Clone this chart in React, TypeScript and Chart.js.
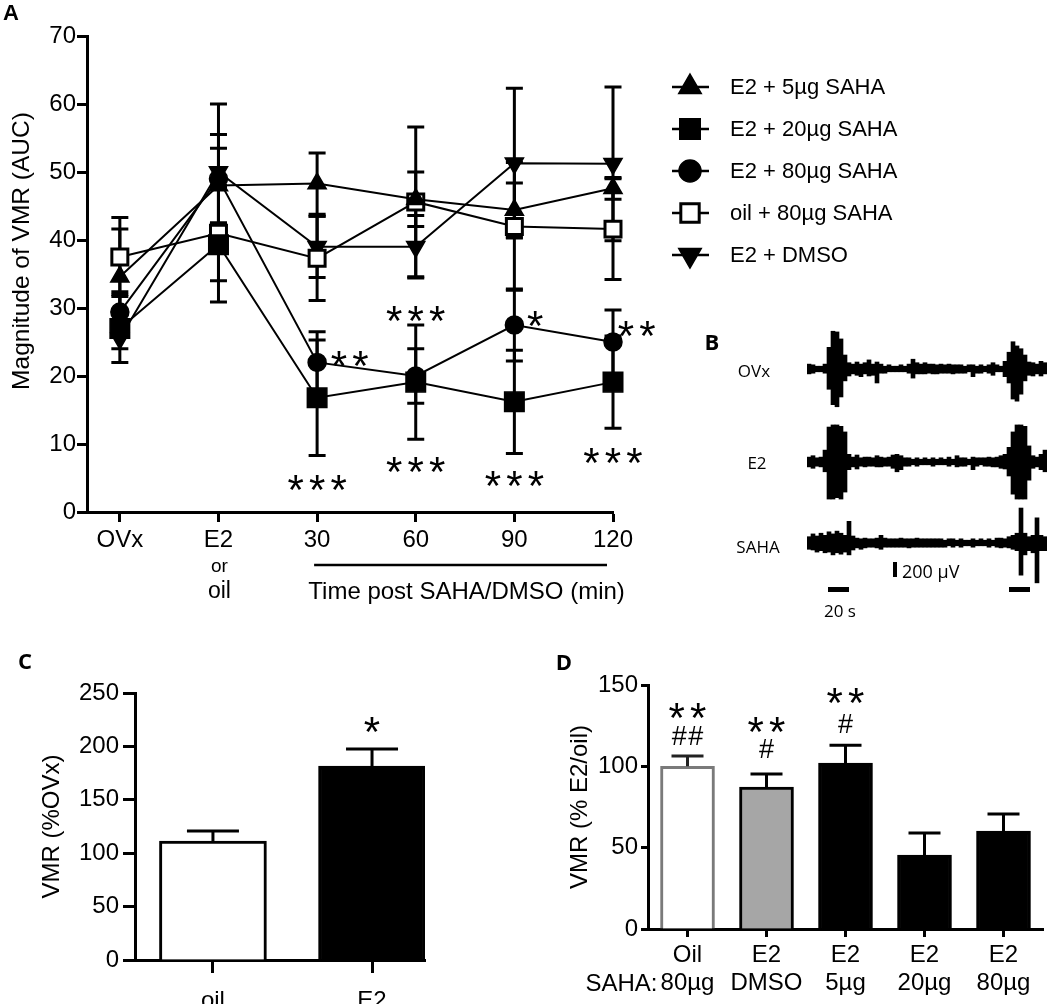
import React, { useEffect, useRef } from 'react';
import { Chart, registerables } from 'chart.js';
import { drawPoint } from 'chart.js/helpers';

Chart.register(...registerables);

const ARIAL = '"Liberation Sans", Arial, Helvetica, sans-serif';
const CALIBRI = '"Open Sans", "Noto Sans", sans-serif';
Chart.defaults.font.family = ARIAL;
Chart.defaults.color = '#000';

// ---------------- Panel A data ----------------
const timeLabels = ['OVx', 'E2', '30', '60', '90', '120'];
const e2SubLabels = ['or', 'oil'];
const xAxisNoteA = 'Time post SAHA/DMSO (min)';
const yTitleA = 'Magnitude of VMR (AUC)';
const seriesNames = ['E2 + 5µg SAHA', 'E2 + 20µg SAHA', 'E2 + 80µg SAHA', 'oil + 80µg SAHA', 'E2 + DMSO'];
const e2Saha5 = [34.6, 48.0, 48.3, 46.0, 44.4, 47.6];
const e2Saha5Err = [7.0, 5.5, 4.5, 4.0, 4.0, 1.6];
const e2Saha20 = [27.0, 39.3, 16.8, 19.1, 16.2, 19.1];
const e2Saha20Err = [5.0, 8.4, 8.5, 8.4, 7.6, 6.8];
const e2Saha80 = [29.4, 49.0, 22.0, 20.0, 27.5, 25.0];
const e2Saha80Err = [3.0, 6.5, 4.5, 4.0, 5.3, 4.7];
const oilSaha80 = [37.5, 41.0, 37.3, 45.6, 42.0, 41.6];
const oilSaha80Err = [5.8, 7.0, 6.2, 11.0, 9.4, 7.4];
const e2Dmso = [25.5, 50.0, 39.0, 39.0, 51.3, 51.2];
const e2DmsoErr = [1.5, 10.0, 4.5, 4.6, 11.0, 11.3];
const starsA = [
  { x: 2, y: 4.7, text: '***' },
  { x: 2.33, y: 23.0, text: '**' },
  { x: 3, y: 29.6, text: '***' },
  { x: 3, y: 7.4, text: '***' },
  { x: 4.21, y: 28.9, text: '*' },
  { x: 4, y: 5.4, text: '***' },
  { x: 5.24, y: 27.4, text: '**' },
  { x: 5, y: 8.8, text: '***' },
];

// ---------------- Panel B data (EMG envelopes, µV, 60 bins) ----------------
const ovxHi = [70, 60, 40, 40, 70, 310, 540, 530, 430, 200, 90, 70, 100, 70, 90, 130, 70, 100, 70, 40, 60, 40, 40, 60, 40, 70, 140, 90, 70, 90, 70, 70, 60, 70, 60, 70, 60, 60, 60, 40, 60, 60, 40, 60, 40, 60, 90, 60, 40, 110, 240, 390, 330, 290, 200, 100, 90, 70, 110, 90];
const ovxLo = [70, 60, 40, 40, 60, 290, 510, 540, 400, 170, 100, 70, 90, 110, 70, 100, 90, 200, 60, 60, 40, 40, 40, 40, 40, 60, 130, 70, 70, 70, 60, 70, 70, 60, 60, 60, 70, 60, 60, 60, 40, 110, 60, 60, 40, 60, 90, 40, 40, 110, 200, 430, 460, 360, 170, 90, 100, 70, 100, 70];
const e2Hi = [70, 90, 60, 70, 170, 500, 530, 530, 510, 430, 110, 70, 100, 60, 70, 70, 60, 90, 70, 60, 70, 100, 110, 90, 60, 60, 40, 60, 40, 60, 40, 60, 40, 60, 40, 70, 40, 90, 60, 60, 40, 70, 60, 60, 60, 70, 60, 70, 90, 110, 210, 430, 530, 530, 510, 230, 90, 70, 110, 170];
const e2Lo = [70, 90, 60, 70, 140, 530, 530, 510, 530, 430, 110, 70, 100, 60, 70, 60, 60, 70, 70, 60, 60, 90, 140, 110, 60, 60, 40, 60, 40, 40, 40, 60, 40, 40, 40, 60, 40, 70, 60, 60, 40, 110, 60, 40, 60, 60, 70, 70, 90, 100, 200, 460, 530, 530, 530, 260, 90, 70, 110, 140];
const sahaHi = [90, 130, 100, 140, 110, 160, 130, 170, 140, 110, 310, 100, 70, 60, 70, 60, 60, 70, 110, 70, 60, 60, 60, 70, 60, 60, 60, 70, 60, 60, 60, 60, 60, 60, 40, 60, 60, 40, 60, 40, 40, 60, 40, 60, 40, 60, 40, 70, 70, 60, 90, 110, 140, 500, 140, 90, 110, 360, 110, 90];
const sahaLo = [90, 100, 130, 110, 140, 130, 170, 140, 160, 130, 170, 100, 70, 90, 70, 60, 60, 70, 90, 60, 60, 60, 60, 60, 60, 70, 60, 60, 60, 60, 60, 60, 60, 60, 60, 40, 60, 40, 60, 40, 40, 60, 40, 40, 40, 60, 40, 60, 70, 60, 70, 90, 110, 460, 170, 110, 140, 570, 110, 110];
const traceNames = ['OVx', 'E2', 'SAHA'];

// ---------------- Panel C data ----------------
const groupsC = ['oil', 'E2'];
const valuesC = [111.4, 181.6];
const errorsC = [9.4, 16.0];
const starsC = [{ x: 1, y: 222.8, text: '*' }];
const yTitleC = 'VMR (%OVx)';

// ---------------- Panel D data ----------------
const groupsD = [['Oil', '80µg'], ['E2', 'DMSO'], ['E2', '5µg'], ['E2', '20µg'], ['E2', '80µg']];
const valuesD = [100, 87.3, 102, 45.5, 60.2];
const errorsD = [6.3, 8.0, 11.0, 13.5, 10.5];
const marksD = [
  { x: 0, y: 135.8, text: '**' },
  { x: 0, y: 119.2, text: '##' },
  { x: 1, y: 127.2, text: '**' },
  { x: 1, y: 111.2, text: '#' },
  { x: 2, y: 145.0, text: '**' },
  { x: 2, y: 126.6, text: '#' },
];
const yTitleD = 'VMR (% E2/oil)';
const sahaPrefix = 'SAHA:';

// ---------------- helpers ----------------
function drawErrorBars(chart: any, mode: 'both' | 'up') {
  const ctx = chart.ctx;
  const ys = chart.scales.y;
  ctx.save();
  chart.data.datasets.forEach((ds: any, di: number) => {
    if (!ds.errors) return;
    const meta = chart.getDatasetMeta(di);
    meta.data.forEach((el: any, i: number) => {
      const v = meta.controller.getParsed(i).y;
      const e = ds.errors[i];
      const colors = Array.isArray(ds.errColor) ? ds.errColor[i] : ds.errColor;
      ctx.strokeStyle = colors || '#000';
      ctx.lineWidth = 3;
      const x = el.x;
      const top = ys.getPixelForValue(v + e);
      const bot = mode === 'both' ? ys.getPixelForValue(v - e) : el.y;
      const hw = ds.capWidth / 2;
      ctx.beginPath();
      ctx.moveTo(x, top);
      ctx.lineTo(x, bot);
      ctx.moveTo(x - hw, top);
      ctx.lineTo(x + hw, top);
      if (mode === 'both') {
        ctx.moveTo(x - hw, bot);
        ctx.lineTo(x + hw, bot);
      }
      ctx.stroke();
    });
  });
  ctx.restore();
}

function drawMarks(chart: any, items: any[]) {
  const ctx = chart.ctx;
  const xs = chart.scales.x;
  const ys = chart.scales.y;
  ctx.save();
  ctx.fillStyle = '#000';
  ctx.textAlign = 'center';
  ctx.textBaseline = 'alphabetic';
  items.forEach((it) => {
    const cx = xs.getPixelForValue(it.x);
    const cy = ys.getPixelForValue(it.y);
    const chars = Array.from(it.text as string);
    const isStar = chars[0] === '*';
    const size = isStar ? 42 : 27;
    const spacing = isStar ? 21.5 : 16.5;
    ctx.font = `${size}px ${ARIAL}`;
    const base = cy + (isStar ? 0.58 * size : 0.35 * size);
    chars.forEach((ch, k) => {
      ctx.fillText(ch, cx + (k - (chars.length - 1) / 2) * spacing, base);
    });
  });
  ctx.restore();
}

const axisGrid = (len: number) => ({
  display: true,
  drawOnChartArea: false,
  drawTicks: true,
  tickLength: len,
  tickWidth: 3,
  tickColor: '#000',
  offset: false,
});
const axisBorder = { display: true, width: 3, color: '#000' };

// ---------------- Panel A ----------------
function PanelA() {
  const ref = useRef<HTMLCanvasElement>(null);
  useEffect(() => {
    const specs = [
      { values: e2Saha5, errors: e2Saha5Err, style: 'triangle', rot: 0, r: 10.5, lr: 13, fill: '#000', bw: 1.5 },
      { values: e2Saha20, errors: e2Saha20Err, style: 'rect', rot: 0, r: 13.8, lr: 14.5, fill: '#000', bw: 1.5 },
      { values: e2Saha80, errors: e2Saha80Err, style: 'circle', rot: 0, r: 9, lr: 11, fill: '#000', bw: 1.5 },
      { values: oilSaha80, errors: oilSaha80Err, style: 'rect', rot: 0, r: 11.3, lr: 13, fill: '#fff', bw: 3 },
      { values: e2Dmso, errors: e2DmsoErr, style: 'triangle', rot: 180, r: 10.5, lr: 13, fill: '#000', bw: 1.5 },
    ];
    const datasets = specs.map((s, k) => ({
      label: seriesNames[k],
      data: s.values.map((v, i) => ({ x: i, y: v })),
      errors: s.errors,
      capWidth: 17,
      errColor: '#000',
      legendRadius: s.lr,
      borderColor: '#000',
      borderWidth: 2,
      pointStyle: s.style,
      pointRotation: s.rot,
      pointRadius: s.r,
      pointBackgroundColor: s.fill,
      pointBorderColor: '#000',
      pointBorderWidth: s.bw,
      clip: false,
      tension: 0,
    }));
    const plugin = {
      id: 'panelA',
      beforeDatasetsDraw(chart: any) {
        drawErrorBars(chart, 'both');
      },
      afterDraw(chart: any) {
        const ctx = chart.ctx;
        const xs = chart.scales.x;
        drawMarks(chart, starsA);
        ctx.save();
        ctx.fillStyle = '#000';
        ctx.strokeStyle = '#000';
        ctx.textAlign = 'center';
        ctx.textBaseline = 'middle';
        const xe = xs.getPixelForValue(1);
        ctx.font = `19px ${ARIAL}`;
        ctx.fillText(e2SubLabels[0], xe + 1, 567);
        ctx.font = `23px ${ARIAL}`;
        ctx.fillText(e2SubLabels[1], xe + 1, 592);
        const x1 = xs.getPixelForValue(2) - 3;
        const x2 = xs.getPixelForValue(5) - 6;
        ctx.lineWidth = 2.5;
        ctx.beginPath();
        ctx.moveTo(x1, 565);
        ctx.lineTo(x2, 565);
        ctx.stroke();
        ctx.font = `24px ${ARIAL}`;
        ctx.fillText(xAxisNoteA, (x1 + x2) / 2 + 6, 592);
        ctx.save();
        ctx.translate(22, 251);
        ctx.rotate(-Math.PI / 2);
        ctx.font = `24.5px ${ARIAL}`;
        ctx.fillText(yTitleA, 0, 0);
        ctx.restore();
        // legend
        chart.data.datasets.forEach((ds: any, i: number) => {
          const y = 87 + i * 42;
          ctx.lineWidth = 2.5;
          ctx.strokeStyle = '#000';
          ctx.beginPath();
          ctx.moveTo(672, y);
          ctx.lineTo(709, y);
          ctx.stroke();
          ctx.fillStyle = ds.pointBackgroundColor;
          ctx.lineWidth = ds.pointBorderWidth;
          drawPoint(ctx, {
            pointStyle: ds.pointStyle,
            rotation: ds.pointRotation,
            radius: ds.legendRadius,
            borderWidth: ds.pointBorderWidth,
          } as any, 690, y);
          ctx.fillStyle = '#000';
          ctx.textAlign = 'left';
          ctx.font = `22px ${ARIAL}`;
          ctx.fillText(ds.label, 730, y + 1);
        });
        ctx.restore();
      },
    };
    const chart = new Chart(ref.current as HTMLCanvasElement, {
      type: 'line',
      data: { datasets: datasets as any },
      options: {
        responsive: false,
        animation: false,
        layout: { padding: { left: 0, top: 36, right: 437, bottom: 0 } },
        plugins: { legend: { display: false }, tooltip: { enabled: false } },
        scales: {
          x: {
            type: 'linear',
            min: -0.333,
            max: 5,
            afterBuildTicks: (s: any) => {
              s.ticks = timeLabels.map((_, i) => ({ value: i }));
            },
            afterFit: (s: any) => {
              s.height = 113;
            },
            ticks: {
              callback: (v: any) => timeLabels[v],
              font: { size: 24 },
              color: '#000',
              padding: 4,
              maxRotation: 0,
              autoSkip: false,
            },
            grid: axisGrid(10) as any,
            border: axisBorder,
          },
          y: {
            min: 0,
            max: 70,
            afterFit: (s: any) => {
              s.width = 87;
            },
            ticks: { stepSize: 10, font: { size: 24 }, color: '#000', padding: 1 },
            grid: axisGrid(10) as any,
            border: axisBorder,
          },
        },
      },
      plugins: [plugin],
    });
    return () => chart.destroy();
  }, []);
  return (
    <canvas
      ref={ref}
      width={1050}
      height={625}
      style={{ position: 'absolute', left: 0, top: 0, width: 1050, height: 625 }}
    />
  );
}

// ---------------- Panel B ----------------
function Trace({ hi, lo, left, top }: { hi: number[]; lo: number[]; left: number; top: number }) {
  const ref = useRef<HTMLCanvasElement>(null);
  useEffect(() => {
    const chart = new Chart(ref.current as HTMLCanvasElement, {
      type: 'bar',
      data: {
        labels: hi.map((_, i) => String(i)),
        datasets: [
          {
            data: hi.map((h, i) => [-lo[i], h]) as any,
            backgroundColor: '#000',
            borderWidth: 0,
            barPercentage: 1,
            categoryPercentage: 1,
          },
        ],
      },
      options: {
        responsive: false,
        animation: false,
        layout: { padding: 0 },
        plugins: { legend: { display: false }, tooltip: { enabled: false } },
        scales: {
          x: { display: false },
          y: { display: false, min: -715, max: 715 },
        },
      },
    });
    return () => chart.destroy();
  }, []);
  return (
    <canvas
      ref={ref}
      width={240}
      height={100}
      style={{ position: 'absolute', left, top, width: 240, height: 100 }}
    />
  );
}

function Txt({ x, y, size, children, bold, family, anchor }: any) {
  const tx = anchor === 'left' ? '0' : '-50%';
  return (
    <div
      style={{
        position: 'absolute',
        left: x,
        top: y,
        transform: `translate(${tx}, -50%)`,
        fontFamily: family || ARIAL,
        fontSize: size,
        fontWeight: bold ? 'bold' : 'normal',
        lineHeight: 1,
        whiteSpace: 'nowrap',
        color: '#000',
      }}
    >
      {children}
    </div>
  );
}

function PanelB() {
  const bar = (l: number, t: number, w: number, h: number) => (
    <div style={{ position: 'absolute', left: l, top: t, width: w, height: h, background: '#000' }} />
  );
  return (
    <>
      <Trace hi={ovxHi} lo={ovxLo} left={807} top={319} />
      <Trace hi={e2Hi} lo={e2Lo} left={807} top={412} />
      <Trace hi={sahaHi} lo={sahaLo} left={807} top={493} />
      <Txt x={754} y={370} size={17} family={CALIBRI}>{traceNames[0]}</Txt>
      <Txt x={757} y={462} size={17} family={CALIBRI}>{traceNames[1]}</Txt>
      <Txt x={758} y={546} size={17} family={CALIBRI}>{traceNames[2]}</Txt>
      {bar(828, 587, 21, 5)}
      {bar(1009, 587, 21, 5)}
      {bar(893, 562, 4, 15)}
      <Txt x={840} y={610} size={17} family={CALIBRI}>20 s</Txt>
      <Txt x={902} y={571} size={18} family={CALIBRI} anchor="left">200 µV</Txt>
    </>
  );
}

// ---------------- Panel C ----------------
function PanelC() {
  const ref = useRef<HTMLCanvasElement>(null);
  useEffect(() => {
    const plugin = {
      id: 'panelC',
      afterDatasetsDraw(chart: any) {
        drawErrorBars(chart, 'up');
        drawMarks(chart, starsC);
      },
    };
    const chart = new Chart(ref.current as HTMLCanvasElement, {
      type: 'bar',
      data: {
        datasets: [
          {
            data: groupsC.map((_, i) => ({ x: i, y: valuesC[i] })) as any,
            backgroundColor: ['#fff', '#000'],
            borderColor: '#000',
            borderWidth: 3,
            barThickness: 107,
            errors: errorsC,
            capWidth: 52,
            errColor: '#000',
          } as any,
        ],
      },
      options: {
        responsive: false,
        animation: false,
        layout: { padding: { left: 0, top: 53, right: 95, bottom: 0 } },
        plugins: { legend: { display: false }, tooltip: { enabled: false } },
        scales: {
          x: {
            type: 'linear',
            min: -0.49,
            max: 1.333,
            offset: false,
            afterBuildTicks: (s: any) => {
              s.ticks = groupsC.map((_, i) => ({ value: i }));
            },
            afterFit: (s: any) => {
              s.height = 44;
            },
            ticks: {
              callback: (v: any) => groupsC[v],
              font: { size: 24 },
              color: '#000',
              padding: 14,
              maxRotation: 0,
              autoSkip: false,
            },
            grid: axisGrid(13) as any,
            border: axisBorder,
          },
          y: {
            min: 0,
            max: 250,
            afterFit: (s: any) => {
              s.width = 135;
            },
            ticks: { stepSize: 50, font: { size: 24 }, color: '#000', padding: 4 },
            grid: axisGrid(12) as any,
            border: axisBorder,
            title: {
              display: true,
              text: yTitleC,
              font: { size: 24 },
              color: '#000',
              padding: { top: 38, bottom: 0 },
            },
          },
        },
      },
      plugins: [plugin],
    });
    return () => chart.destroy();
  }, []);
  return (
    <canvas
      ref={ref}
      width={520}
      height={364}
      style={{ position: 'absolute', left: 0, top: 640, width: 520, height: 364 }}
    />
  );
}

// ---------------- Panel D ----------------
function PanelD() {
  const ref = useRef<HTMLCanvasElement>(null);
  useEffect(() => {
    const plugin = {
      id: 'panelD',
      afterDatasetsDraw(chart: any) {
        drawErrorBars(chart, 'up');
        drawMarks(chart, marksD);
      },
      afterDraw(chart: any) {
        const ctx = chart.ctx;
        const xs = chart.scales.x;
        ctx.save();
        ctx.fillStyle = '#000';
        ctx.font = `24px ${ARIAL}`;
        ctx.textAlign = 'right';
        ctx.textBaseline = 'middle';
        ctx.fillText(sahaPrefix, xs.getPixelForValue(0) - 30, chart.chartArea.bottom + 55);
        ctx.restore();
      },
    };
    const chart = new Chart(ref.current as HTMLCanvasElement, {
      type: 'bar',
      data: {
        labels: groupsD as any,
        datasets: [
          {
            data: valuesD,
            backgroundColor: ['#fff', '#a6a6a6', '#000', '#000', '#000'],
            borderColor: ['#7a7a7a', '#000', '#000', '#000', '#000'],
            borderWidth: 3,
            barThickness: 54,
            errors: errorsD,
            capWidth: 32,
            errColor: ['#222', '#000', '#000', '#000', '#000'],
          } as any,
        ],
      },
      options: {
        responsive: false,
        animation: false,
        layout: { padding: { left: 0, top: 45, right: 7, bottom: 0 } },
        plugins: { legend: { display: false }, tooltip: { enabled: false } },
        scales: {
          x: {
            offset: true,
            afterFit: (s: any) => {
              s.height = 75;
            },
            ticks: {
              font: { size: 24, lineHeight: 1.17 },
              color: '#000',
              padding: 4,
              maxRotation: 0,
              autoSkip: false,
            },
            grid: axisGrid(8) as any,
            border: axisBorder,
          },
          y: {
            min: 0,
            max: 150,
            afterFit: (s: any) => {
              s.width = 118;
            },
            ticks: { stepSize: 50, font: { size: 24 }, color: '#000', padding: 3 },
            grid: axisGrid(7) as any,
            border: axisBorder,
            title: {
              display: true,
              text: yTitleD,
              font: { size: 24 },
              color: '#000',
              padding: { top: 36, bottom: 0 },
            },
          },
        },
      },
      plugins: [plugin],
    });
    return () => chart.destroy();
  }, []);
  return (
    <canvas
      ref={ref}
      width={520}
      height={364}
      style={{ position: 'absolute', left: 530, top: 640, width: 520, height: 364 }}
    />
  );
}

export default function App() {
  return (
    <div
      style={{
        position: 'absolute',
        left: 0,
        top: 0,
        width: 1050,
        height: 1004,
        background: '#fff',
        overflow: 'hidden',
      }}
    >
      <PanelA />
      <PanelB />
      <PanelC />
      <PanelD />
      <Txt x={11} y={13} size={22} bold>A</Txt>
      <Txt x={712} y={341} size={22} bold family={CALIBRI}>B</Txt>
      <Txt x={25} y={660} size={22} bold family={CALIBRI}>C</Txt>
      <Txt x={564} y={661} size={22} bold family={CALIBRI}>D</Txt>
    </div>
  );
}
